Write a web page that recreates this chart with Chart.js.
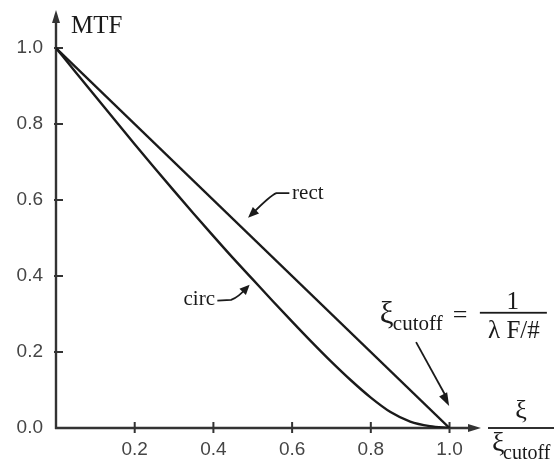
<!DOCTYPE html>
<html><head><meta charset="utf-8">
<script src="https://cdn.jsdelivr.net/npm/chart.js@4"></script>
<style>html,body{margin:0;padding:0;background:#fff}#wrap{width:558px;height:469px}</style>
</head><body><div id="wrap"><canvas id="c" width="558" height="469"></canvas></div>
<script>
// normalized spatial frequency (xi / xi_cutoff)
const circFreq = [0,0.05,0.1,0.15,0.2,0.25,0.3,0.35,0.4,0.45,0.5,0.55,0.6,0.65,0.7,0.75,0.8,0.85,0.9,0.95,1.0];
const circMTF  = [1,0.936,0.873,0.810,0.747,0.685,0.624,0.564,0.505,0.447,0.391,0.335,0.280,0.226,0.174,0.125,0.080,0.042,0.017,0.005,0];
const rectFreq = [0,1.0];
const rectMTF  = [1,0];
const xTicks = [0.2,0.4,0.6,0.8,1.0];
const yTicks = [0.0,0.2,0.4,0.6,0.8,1.0];
const xMax = 1.08, yMax = 1.1;

const ink = '#1a1a1a';
const serif = '"Liberation Serif","DejaVu Serif",serif';

function head(ctx, tx, ty, ang, len, hw){
  ctx.beginPath();
  ctx.moveTo(tx, ty);
  ctx.lineTo(tx - len*Math.cos(ang) + hw*Math.sin(ang), ty - len*Math.sin(ang) - hw*Math.cos(ang));
  ctx.lineTo(tx - len*Math.cos(ang) - hw*Math.sin(ang), ty - len*Math.sin(ang) + hw*Math.cos(ang));
  ctx.closePath(); ctx.fill();
}

function zeroPad(s){ s.paddingTop = 0; s.paddingBottom = 0; s.paddingLeft = 0; s.paddingRight = 0; }

const axesPlugin = {
  id: 'axesPlugin',
  beforeDatasetsDraw(chart){
    const {ctx, scales:{x, y}} = chart;
    const x0 = x.getPixelForValue(0), y0 = y.getPixelForValue(0);
    const yTop = y.getPixelForValue(yMax), xRight = x.getPixelForValue(xMax);
    ctx.save();
    ctx.strokeStyle = '#333'; ctx.fillStyle = '#333'; ctx.lineWidth = 2.4;
    ctx.beginPath(); ctx.moveTo(x0, y0 + 1); ctx.lineTo(x0, yTop + 8); ctx.stroke();
    ctx.beginPath(); ctx.moveTo(x0 - 1, y0); ctx.lineTo(xRight - 8, y0); ctx.stroke();
    head(ctx, x0, yTop, -Math.PI/2, 13, 4);
    head(ctx, xRight, y0, 0, 13, 4);
    ctx.lineWidth = 2;
    yTicks.forEach(v => { if (v === 0) return; const py = y.getPixelForValue(v);
      ctx.beginPath(); ctx.moveTo(x0 - 2, py); ctx.lineTo(x0 + 7, py); ctx.stroke(); });
    xTicks.forEach(v => { const px = x.getPixelForValue(v);
      ctx.beginPath(); ctx.moveTo(px, y0 - 6); ctx.lineTo(px, y0 + 5); ctx.stroke(); });
    ctx.restore();
  },
  afterDraw(chart){
    const {ctx, scales:{x, y}} = chart;
    const X = v => x.getPixelForValue(v), Y = v => y.getPixelForValue(v);
    ctx.save();
    ctx.fillStyle = ink; ctx.strokeStyle = ink; ctx.lineWidth = 1.8;
    // MTF label
    ctx.font = '25px ' + serif; ctx.textAlign = 'left'; ctx.textBaseline = 'alphabetic';
    ctx.fillText('MTF', X(0) + 15, Y(yMax) + 23);
    // rect label + arrow
    ctx.font = '21px ' + serif; ctx.textBaseline = 'middle';
    ctx.fillText('rect', X(0.600), Y(0.618));
    ctx.beginPath(); ctx.moveTo(X(0.593), Y(0.618)); ctx.lineTo(X(0.560), Y(0.618));
    ctx.quadraticCurveTo(X(0.545), Y(0.612), X(0.500), Y(0.565)); ctx.stroke();
    head(ctx, X(0.488), Y(0.553), Math.atan2(Y(0.553)-Y(0.570), X(0.488)-X(0.505)), 11, 4.5);
    // circ label + arrow
    ctx.textAlign = 'right';
    ctx.fillText('circ', X(0.404), Y(0.337));
    ctx.beginPath(); ctx.moveTo(X(0.410), Y(0.335)); ctx.lineTo(X(0.445), Y(0.337));
    ctx.quadraticCurveTo(X(0.465), Y(0.345), X(0.482), Y(0.367)); ctx.stroke();
    head(ctx, X(0.492), Y(0.377), Math.atan2(Y(0.377)-Y(0.362), X(0.492)-X(0.478)), 10, 4.5);
    // cutoff formula
    const fx = X(0.823), fy = Y(0.303);
    ctx.textAlign = 'left'; ctx.textBaseline = 'alphabetic';
    ctx.font = '31px ' + serif; ctx.fillText('ξ', fx, fy + 10);
    ctx.font = '21px ' + serif; ctx.fillText('cutoff', fx + 13, fy + 17);
    ctx.font = '26px ' + serif; ctx.fillText('=', fx + 73, fy + 10);
    ctx.fillRect(fx + 100, fy - 1, 67, 1.8);
    ctx.textAlign = 'center';
    ctx.font = '25px ' + serif; ctx.fillText('1', fx + 133, fy - 4);
    ctx.fillText('λ F/#', fx + 134, fy + 25);
    // arrow to cutoff
    ctx.beginPath(); ctx.moveTo(X(0.915), Y(0.226)); ctx.lineTo(X(0.990), Y(0.085)); ctx.stroke();
    head(ctx, X(0.999), Y(0.058), Math.atan2(Y(0.058)-Y(0.226), X(0.999)-X(0.915)), 13, 4.5);
    // x-axis label fraction
    const lx = X(xMax) + 7, ly = Y(0);
    ctx.fillRect(lx, ly - 0.9, 66, 1.8);
    ctx.textAlign = 'center';
    ctx.font = '26px ' + serif; ctx.fillText('ξ', lx + 33, ly - 10);
    ctx.textAlign = 'left';
    ctx.font = '28px ' + serif; ctx.fillText('ξ', lx + 4, ly + 23);
    ctx.font = '20px ' + serif; ctx.fillText('cutoff', lx + 15, ly + 31);
    ctx.restore();
  }
};

new Chart(document.getElementById('c'), {
  type: 'scatter',
  data: {
    datasets: [
      { label: 'rect', data: rectFreq.map((v,i)=>({x:v, y:rectMTF[i]})), showLine: true,
        borderColor: ink, borderWidth: 2.4, pointRadius: 0, tension: 0, fill: false },
      { label: 'circ', data: circFreq.map((v,i)=>({x:v, y:circMTF[i]})), showLine: true,
        borderColor: ink, borderWidth: 2.4, pointRadius: 0, cubicInterpolationMode: 'monotone', fill: false }
    ]
  },
  options: {
    responsive: false, animation: false, devicePixelRatio: 1,
    layout: { padding: { left: 0, top: 10, right: 77, bottom: 0 } },
    plugins: { legend: { display: false }, tooltip: { enabled: false } },
    scales: {
      x: {
        type: 'linear', min: 0, max: xMax,
        grid: { display: false, drawTicks: false }, border: { display: false },
        afterBuildTicks: s => { s.ticks = xTicks.map(v => ({value: v})); },
        afterFit: s => { s.height = 41; zeroPad(s); },
        ticks: { padding: 10, color: '#454545', font: { family: '"Liberation Sans", Arial, sans-serif', size: 19 },
          callback: v => Number(v).toFixed(1), maxRotation: 0, autoSkip: false }
      },
      y: {
        type: 'linear', min: 0, max: yMax,
        grid: { display: false, drawTicks: false }, border: { display: false },
        afterBuildTicks: s => { s.ticks = yTicks.map(v => ({value: v})); },
        afterFit: s => { s.width = 56; zeroPad(s); },
        ticks: { padding: 13, color: '#454545', font: { family: '"Liberation Sans", Arial, sans-serif', size: 19 },
          callback: v => Number(v).toFixed(1), autoSkip: false }
      }
    }
  },
  plugins: [axesPlugin]
});
</script>
</body></html>
